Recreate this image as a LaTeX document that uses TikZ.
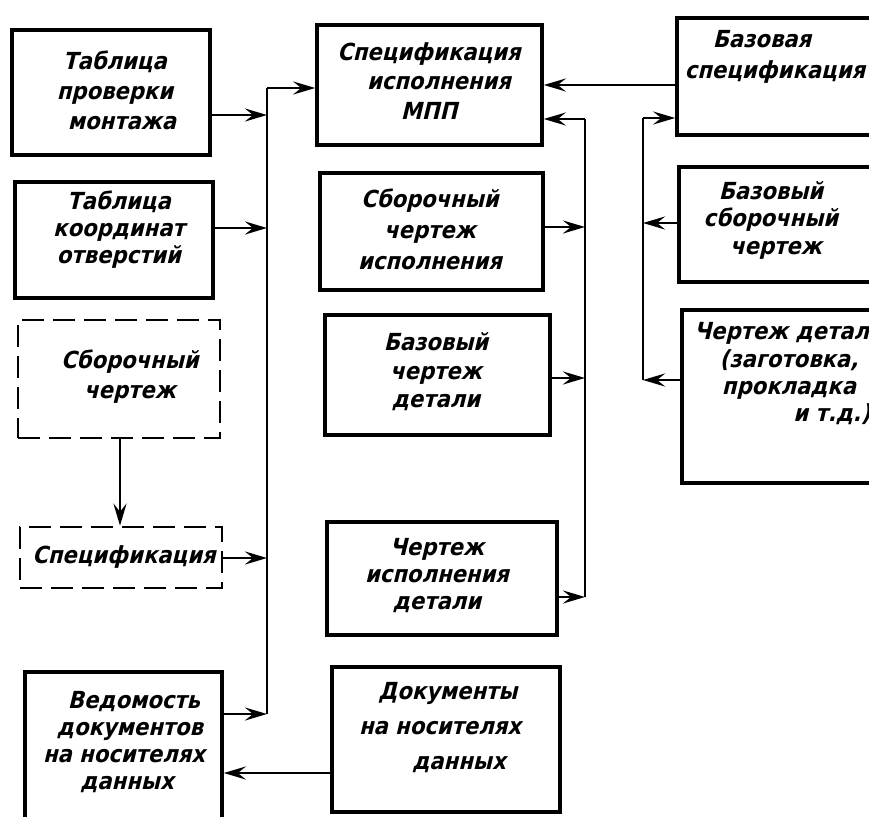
\documentclass[tikz,border=0pt]{standalone}
\usepackage{fontspec}
\setmainfont{DejaVu Sans}
\newfontfamily\gost{DejaVu Sans Condensed Bold}[FakeSlant=0.24]
\newcommand\gs[1]{\gost\fontsize{23.5}{#1}\selectfont}
\usetikzlibrary{arrows.meta}
\begin{document}
\begin{tikzpicture}[x=1pt,y=-1pt,
  box/.style={draw, line width=3.6pt, inner sep=0pt},
  dbox/.style={draw, line width=2.6pt, inner sep=0pt, dash pattern=on 22pt off 9pt},
  txt/.style={align=center, inner sep=0pt, font=\gs{28.5}},
  conn/.style={line width=2.8pt, -{Stealth[length=22pt,width=13pt,inset=8pt]}},
  bus/.style={line width=2.8pt}]
\useasboundingbox (0,0) rectangle (869,816);
% left column
\node[box, minimum width=198pt, minimum height=125pt] (b1) at (111,92.5) {};
\node[txt, font=\gs{30}] (t1) at (115,90) {Таблица\\проверки\\\hspace*{14pt}монтажа};
\node[box, minimum width=198pt, minimum height=116pt] (b2) at (114,240) {};
\node[txt, font=\gs{27}] (t2) at (119,230) {Таблица\\координат\\отверстий};
\node[dbox, minimum width=202pt, minimum height=118pt] (d1) at (119,379) {};
\node[txt, font=\gs{30}] (t3) at (130,377) {Сборочный\\чертеж};
\node[dbox, minimum width=202pt, minimum height=61pt] (d2) at (121,557.5) {};
\node[txt] (t4) at (124,557) {Спецификация};
\node[box, minimum width=197pt, minimum height=168pt] (b5) at (123.5,756) {};
\node[txt, font=\gs{27}] (t5) at (124,742) {\hspace*{20pt}Ведомость\\\hspace*{12pt}документов\\на носителях\\\hspace*{6pt}данных};
% middle column
\node[box, minimum width=225pt, minimum height=120pt] (s1) at (429.5,85) {};
\node[txt, font=\gs{29.5}] (t6) at (429,81) {Спецификация\\\hspace*{20pt}исполнения\\МПП};
\node[box, minimum width=223pt, minimum height=117pt] (s2) at (431.5,231.5) {};
\node[txt, font=\gs{31}] (t7) at (430,229) {Сборочный\\чертеж\\исполнения};
\node[box, minimum width=225pt, minimum height=120pt] (s3) at (437.5,375) {};
\node[txt] (t8) at (436,372) {Базовый\\чертеж\\детали};
\node[box, minimum width=230pt, minimum height=113pt] (s4) at (442,578.5) {};
\node[txt, font=\gs{27}] (t9) at (437,576) {Чертеж\\исполнения\\детали};
\node[box, minimum width=228pt, minimum height=145pt] (s5) at (446,739.5) {};
\node[txt, font=\gs{35}] (t10) at (440,728) {\hspace*{16pt}Документы\\на носителях\\\hspace*{38pt}данных};
% right column
\node[box, minimum width=223pt, minimum height=117pt] (r1) at (788.5,76.5) {};
\node[txt, font=\gs{31}] (t11) at (775,57) {\hspace*{-26pt}Базовая\\спецификация};
\node[box, minimum width=221pt, minimum height=115pt] (r2) at (789.5,224.5) {};
\node[txt, font=\gs{27.5}] (t12) at (771,220) {Базовый\\сборочный\\\hspace*{10pt}чертеж};
\node[box, minimum width=218pt, minimum height=173pt] (r3) at (791,396.5) {};
\node[txt, font=\gs{27.3}] (t13) at (789,374) {Чертеж детали\\(заготовка,\\прокладка\\\hspace*{86pt}и т.д.)};
% bus coordinates
\coordinate (L0) at (267,88);
\coordinate (L5) at (267,714);
\coordinate (M0) at (585,119);
\coordinate (M4) at (585,597);
\coordinate (R0) at (643,118);
\coordinate (R3) at (643,380);
% left bus
\draw[bus] (L5) -- (L0);
\draw[conn] (L0) -- (L0 -| s1.west);
\draw[conn] (b1.east |- 0,115) -- (267,115);
\draw[conn] (b2.east |- 0,228) -- (267,228);
\draw[conn] (d2.east |- 0,558) -- (267,558);
\draw[conn] (b5.east |- L5) -- (L5);
\draw[conn] (d1.south -| 120,0) -- (d2.north -| 120,0);
\draw[conn] (s5.west |- 0,773) -- (b5.east |- 0,773);
% middle bus
\draw[bus] (M4) -- (M0);
\draw[conn] (M0) -- (M0 -| s1.east);
\draw[conn] (s2.east |- 0,227) -- (585,227);
\draw[conn] (s3.east |- 0,378) -- (585,378);
\draw[conn] (s4.east |- M4) -- (M4);
% right bus
\draw[bus] (R3) -- (R0);
\draw[conn] (R0) -- (R0 -| r1.west);
\draw[conn] (r2.west |- 0,223) -- (643,223);
\draw[conn] (r3.west |- R3) -- (R3);
\draw[conn] (r1.west |- 0,85) -- (s1.east |- 0,85);
\end{tikzpicture}
\end{document}
